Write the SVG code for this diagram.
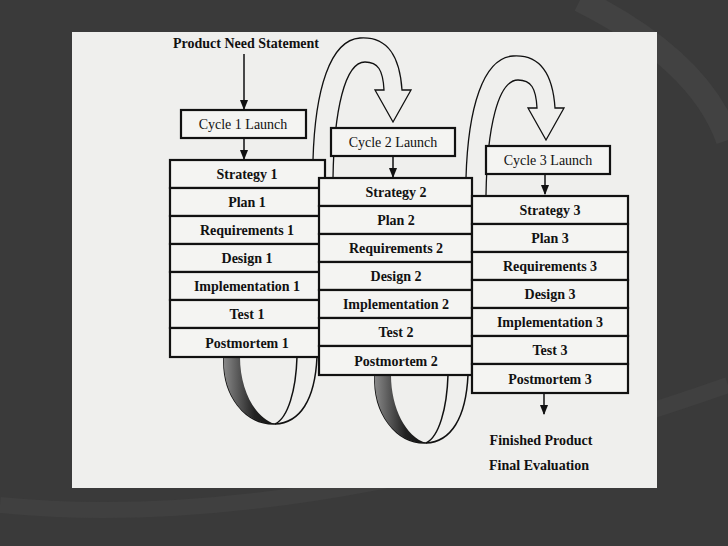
<svg xmlns="http://www.w3.org/2000/svg" width="728" height="546" viewBox="0 0 728 546">
<defs>
<style>
.b{fill:#f4f4f2;stroke:#111;stroke-width:2.2}
.t{font-family:"Liberation Serif",serif;font-size:14px;fill:#111;text-anchor:middle}
.tb{font-family:"Liberation Serif",serif;font-size:14px;font-weight:bold;fill:#111;text-anchor:middle}
.c{fill:none;stroke:#111;stroke-width:1.5}
</style>
<linearGradient id="g" x1="0" x2="1" y1="0" y2="0"><stop offset="0" stop-color="#888"/><stop offset="0.6" stop-color="#222"/><stop offset="1" stop-color="#111"/></linearGradient>
<marker id="a" viewBox="0 0 10 10" refX="9" refY="5" markerWidth="7" markerHeight="7" orient="auto"><path d="M0,1 L10,5 L0,9 z" fill="#111"/></marker>
</defs>
<rect width="728" height="546" fill="#3a3a3a"/>
<path d="M580,0 Q700,60 728,140" fill="none" stroke="#424242" stroke-width="24"/>
<path d="M0,505 Q300,535 728,385" fill="none" stroke="#404040" stroke-width="16"/>
<rect x="72" y="32" width="585" height="456" fill="#efefed"/>
<g id="connectors">
<text x="246" y="48" class="tb">Product Need Statement</text>
<line x1="244" y1="54" x2="244" y2="109" class="c" marker-end="url(#a)"/>
<line x1="244" y1="138" x2="244" y2="159" class="c" marker-end="url(#a)"/>
<line x1="393" y1="156" x2="393" y2="177" class="c" marker-end="url(#a)"/>
<line x1="545" y1="174" x2="545" y2="194" class="c" marker-end="url(#a)"/>
<line x1="544" y1="393" x2="544" y2="414" class="c" marker-end="url(#a)"/>
<path d="M313,160 C315,90 330,40 360,38 C390,36 400,60 402,90 L411,90 L393,122 L375,90 L384,90 C383,70 378,62 365,62 C345,62 334,110 333,178" fill="#efefed" stroke="#111" stroke-width="1.3"/>
<path d="M466,178 C468,108 483,58 513,56 C543,54 553,78 555,108 L564,108 L546,140 L528,108 L537,108 C536,88 531,80 518,80 C498,80 487,128 486,195" fill="#efefed" stroke="#111" stroke-width="1.3"/>
<path d="M224,357 C222,395 245,425 275,424 C300,423 315,400 317,357" class="c" stroke-width="1.2"/>
<path d="M297,357 C296,390 288,418 275,424" class="c" stroke-width="1.2"/>
<path d="M224,357 L240,357 C240,390 255,418 275,424 C245,425 222,395 224,357 z" fill="url(#g)"/>
<path d="M375,375 C373,413 396,444 426,443 C451,442 466,418 468,375" class="c" stroke-width="1.2"/>
<path d="M448,375 C447,408 439,437 426,443" class="c" stroke-width="1.2"/>
<path d="M375,375 L391,375 C391,408 406,437 426,443 C396,444 373,413 375,375 z" fill="url(#g)"/>
<text x="541" y="445" class="tb">Finished Product</text>
<text x="539" y="470" class="tb">Final Evaluation</text>
</g>
<g id="launch1"><rect x="181" y="110" width="125" height="28" class="b"/><text x="243" y="129" class="t">Cycle 1 Launch</text></g>
<g id="launch2"><rect x="331" y="128" width="124" height="28" class="b"/><text x="393" y="147" class="t">Cycle 2 Launch</text></g>
<g id="launch3"><rect x="486" y="146" width="124" height="28" class="b"/><text x="548" y="165" class="t">Cycle 3 Launch</text></g>
<g id="col1">
<rect x="170" y="160" width="155" height="28" class="b"/><text x="247" y="179" class="tb">Strategy 1</text>
<rect x="170" y="188" width="155" height="28" class="b"/><text x="247" y="207" class="tb">Plan 1</text>
<rect x="170" y="216" width="155" height="28" class="b"/><text x="247" y="235" class="tb">Requirements 1</text>
<rect x="170" y="244" width="155" height="28" class="b"/><text x="247" y="263" class="tb">Design 1</text>
<rect x="170" y="272" width="155" height="28" class="b"/><text x="247" y="291" class="tb">Implementation 1</text>
<rect x="170" y="300" width="155" height="28" class="b"/><text x="247" y="319" class="tb">Test 1</text>
<rect x="170" y="328" width="155" height="29" class="b"/><text x="247" y="348" class="tb">Postmortem 1</text>
</g>
<g id="col2">
<rect x="319" y="178" width="153" height="28" class="b"/><text x="396" y="197" class="tb">Strategy 2</text>
<rect x="319" y="206" width="153" height="28" class="b"/><text x="396" y="225" class="tb">Plan 2</text>
<rect x="319" y="234" width="153" height="28" class="b"/><text x="396" y="253" class="tb">Requirements 2</text>
<rect x="319" y="262" width="153" height="28" class="b"/><text x="396" y="281" class="tb">Design 2</text>
<rect x="319" y="290" width="153" height="28" class="b"/><text x="396" y="309" class="tb">Implementation 2</text>
<rect x="319" y="318" width="153" height="28" class="b"/><text x="396" y="337" class="tb">Test 2</text>
<rect x="319" y="346" width="153" height="29" class="b"/><text x="396" y="366" class="tb">Postmortem 2</text>
</g>
<g id="col3">
<rect x="472" y="196" width="156" height="28" class="b"/><text x="550" y="215" class="tb">Strategy 3</text>
<rect x="472" y="224" width="156" height="28" class="b"/><text x="550" y="243" class="tb">Plan 3</text>
<rect x="472" y="252" width="156" height="28" class="b"/><text x="550" y="271" class="tb">Requirements 3</text>
<rect x="472" y="280" width="156" height="28" class="b"/><text x="550" y="299" class="tb">Design 3</text>
<rect x="472" y="308" width="156" height="28" class="b"/><text x="550" y="327" class="tb">Implementation 3</text>
<rect x="472" y="336" width="156" height="28" class="b"/><text x="550" y="355" class="tb">Test 3</text>
<rect x="472" y="364" width="156" height="29" class="b"/><text x="550" y="384" class="tb">Postmortem 3</text>
</g>
</svg>
